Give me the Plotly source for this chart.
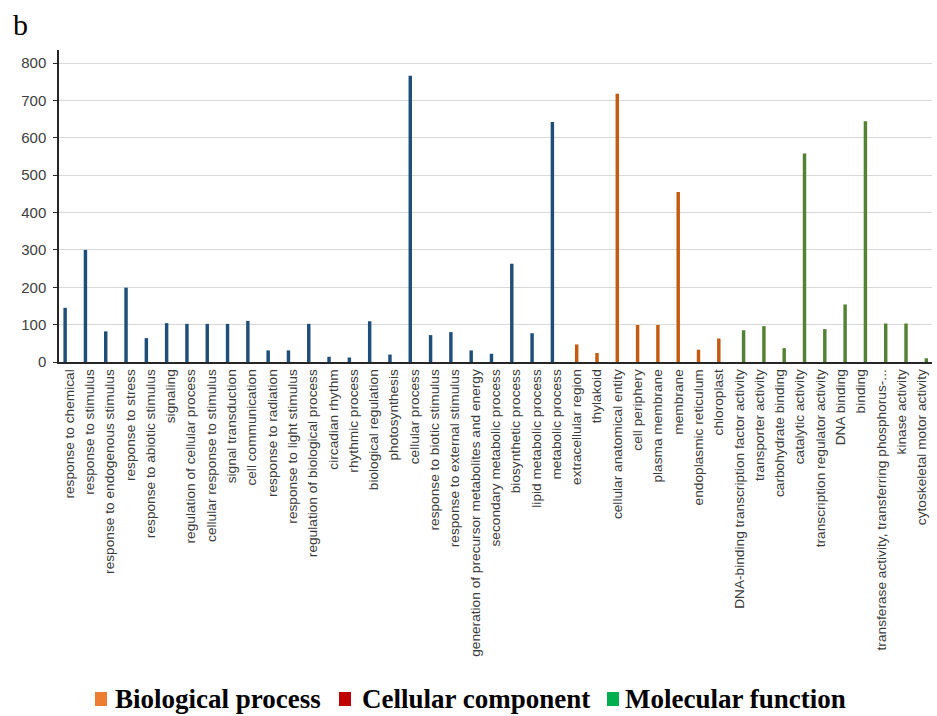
import plotly.graph_objects as go

# GO term counts, grouped by ontology
bp_terms = [
    "response to chemical", "response to stimulus", "response to endogenous stimulus",
    "response to stress", "response to abiotic stimulus", "signaling",
    "regulation of cellular process", "cellular response to stimulus", "signal transduction",
    "cell communication", "response to radiation", "response to light stimulus",
    "regulation of biological process", "circadian rhythm", "rhythmic process",
    "biological regulation", "photosynthesis", "cellular process",
    "response to biotic stimulus", "response to external stimulus",
    "generation of precursor metabolites and energy", "secondary metabolic process",
    "biosynthetic process", "lipid metabolic process", "metabolic process",
]
bp_counts = [145, 300, 82, 199, 64, 104, 102, 102, 102, 110, 31, 31, 102, 14, 12,
             109, 20, 766, 72, 80, 31, 22, 263, 77, 642]

cc_terms = [
    "extracellular region", "thylakoid", "cellular anatomical entity", "cell periphery",
    "plasma membrane", "membrane", "endoplasmic reticulum", "chloroplast",
]
cc_counts = [47, 24, 718, 99, 99, 455, 33, 63]

mf_terms = [
    "DNA-binding transcription factor activity", "transporter activity",
    "carbohydrate binding", "catalytic activity", "transcription regulator activity",
    "DNA binding", "binding", "transferase activity, transferring phosphorus-...",
    "kinase activity", "cytoskeletal motor activity",
]
mf_counts = [85, 96, 37, 558, 88, 154, 644, 103, 103, 10]

legend_names = ["Biological process", "Cellular component", "Molecular function"]
bar_colors = ["#1F4E79", "#C55A11", "#548235"]
legend_colors = ["#ED7D31", "#C00000", "#00B050"]

categories = bp_terms + cc_terms + mf_terms

# plot-area geometry (px) used to place the hand-made key in paper units
W, H = 937, 716
ML, MR, MT, MB = 59, 5, 50, 354
PW, PH = W - ML - MR, H - MT - MB


def px_x(px):
    return (px - ML) / PW


def px_y(py):
    return (H - MB - py) / PH


# thin bars, each series shifted within its category slot (as in a clustered chart)
bar_width = 0.17
bar_offsets = [-0.283, -0.086, 0.135]

fig = go.Figure()
for terms, counts, color, name, off in zip(
    [bp_terms, cc_terms, mf_terms], [bp_counts, cc_counts, mf_counts],
    bar_colors, legend_names, bar_offsets
):
    fig.add_trace(go.Bar(x=terms, y=counts, marker_color=color, marker_line_width=0,
                         width=bar_width, offset=off, name=name, showlegend=False))

fig.update_layout(
    width=W, height=H,
    margin=dict(l=ML, r=MR, t=MT, b=MB),
    paper_bgcolor="white", plot_bgcolor="white",
    barmode="overlay",
    showlegend=False,
    font=dict(family="Liberation Sans", color="#404040"),
)

fig.update_xaxes(
    type="category", categoryorder="array", categoryarray=categories,
    range=[-0.5, len(categories) - 0.5],
    tickangle=-90, tickfont=dict(size=13.7, color="#3A3A3A"),
    showline=True, linecolor="#262626", linewidth=1.5,
    showgrid=False, ticks="", automargin=False,
)
fig.update_yaxes(
    range=[0, 835], tickvals=[0, 100, 200, 300, 400, 500, 600, 700, 800],
    tickfont=dict(size=15, color="#404040"),
    showline=True, linecolor="#262626", linewidth=1.5,
    ticks="outside", ticklen=4, tickcolor="#262626", ticklabelstandoff=4,
    showgrid=True, gridcolor="#D9D9D9", gridwidth=1, zeroline=False,
    automargin=False,
)

# panel letter
fig.add_annotation(text="b", xref="paper", yref="paper", x=px_x(11), y=px_y(6),
                   xanchor="left", yanchor="top", showarrow=False,
                   font=dict(family="Liberation Serif", size=30, color="black"))

# category key along the bottom
key_square_x = [95, 339, 607]
key_text_x = [113, 360, 623]
key_y = 699
for name, color, sx, tx in zip(legend_names, legend_colors, key_square_x, key_text_x):
    fig.add_shape(type="rect", xref="paper", yref="paper",
                  x0=px_x(sx), x1=px_x(sx + 12), y0=px_y(706), y1=px_y(692),
                  fillcolor=color, line_width=0)
    fig.add_annotation(text=name, xref="paper", yref="paper", x=px_x(tx), y=px_y(key_y),
                       xanchor="left", yanchor="middle", showarrow=False,
                       font=dict(family="Liberation Serif", size=27, color="black",
                                 weight="bold"))

fig.write_html("out.html")
